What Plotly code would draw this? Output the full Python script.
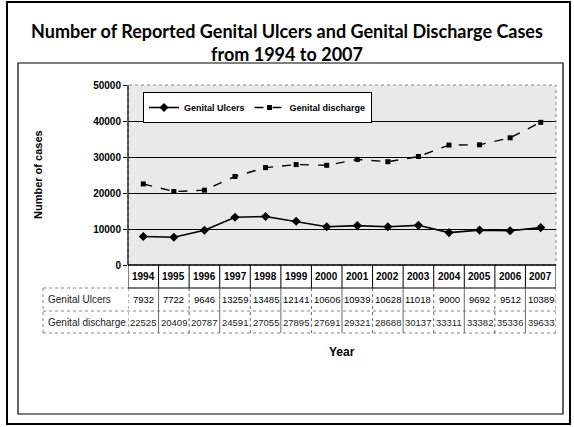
import plotly.graph_objects as go

years = ["1994", "1995", "1996", "1997", "1998", "1999", "2000",
         "2001", "2002", "2003", "2004", "2005", "2006", "2007"]
ulcers = [7932, 7722, 9646, 13259, 13485, 12141, 10606,
          10939, 10628, 11018, 9000, 9692, 9512, 10389]
discharge = [22525, 20409, 20787, 24591, 27055, 27895, 27691,
             29321, 28688, 30137, 33311, 33382, 35336, 39633]
y_ticks = [0, 10000, 20000, 30000, 40000, 50000]
series_names = ["Genital Ulcers", "Genital discharge"]

W, H = 574, 427
L, R, T, B = 128, 556, 85, 265


def px(x):
    return (x - L) / (R - L)


def py(y):
    return (B - y) / (B - T)


SANS = "Liberation Sans, Arial"

fig = go.Figure()
fig.add_trace(go.Scatter(
    x=years, y=ulcers, name=series_names[0], mode="lines+markers",
    line=dict(color="black", width=1.6),
    marker=dict(symbol="diamond", size=7, color="black"),
))
fig.add_trace(go.Scatter(
    x=years, y=discharge, name=series_names[1], mode="lines+markers",
    line=dict(color="black", width=1.4, dash="dash"),
    marker=dict(symbol="square", size=5, color="black"),
))

shapes = []
annotations = []

# outer and inner frames
shapes.append(dict(type="rect", xref="paper", yref="paper",
                   x0=px(7), x1=px(570), y0=py(424), y1=py(2),
                   line=dict(color="black", width=2)))
shapes.append(dict(type="rect", xref="paper", yref="paper",
                   x0=px(18), x1=px(563), y0=py(414), y1=py(63),
                   line=dict(color="black", width=1.2)))
# plot area border (top/right dotted grey)
shapes.append(dict(type="rect", xref="paper", yref="paper",
                   x0=0, x1=1, y0=0, y1=1,
                   line=dict(color="#888888", width=1, dash="dot")))
shapes.append(dict(type="line", xref="paper", yref="paper",
                   x0=0, x1=0, y0=0, y1=1,
                   line=dict(color="black", width=1.2)))

# table geometry
row_y = [265, 288, 311, 333]
n = len(years)
shapes.append(dict(type="line", xref="paper", yref="paper",
                   x0=0, x1=1, y0=py(row_y[0]), y1=py(row_y[0]),
                   line=dict(color="black", width=1.5)))
shapes.append(dict(type="line", xref="paper", yref="paper",
                   x0=0, x1=1, y0=py(row_y[1]), y1=py(row_y[1]),
                   line=dict(color="black", width=1)))
for i in range(n + 1):
    shapes.append(dict(type="line", xref="x", yref="paper",
                       x0=i - 0.5, x1=i - 0.5, y0=py(row_y[0]), y1=py(row_y[1]),
                       line=dict(color="black", width=1)))
    shapes.append(dict(type="line", xref="x", yref="paper",
                       x0=i - 0.5, x1=i - 0.5, y0=py(row_y[1]), y1=py(row_y[3]),
                       line=dict(color="#444444", width=0.8,
                                 dash="solid" if i % 2 else "dot")))
for yy in row_y[1:]:
    shapes.append(dict(type="line", xref="paper", yref="paper",
                       x0=px(43), x1=1, y0=py(yy), y1=py(yy),
                       line=dict(color="#666666", width=0.8, dash="dot")))
shapes.append(dict(type="line", xref="paper", yref="paper",
                   x0=px(43), x1=px(43), y0=py(row_y[1]), y1=py(row_y[3]),
                   line=dict(color="#666666", width=0.8, dash="dot")))

row_centers = [(row_y[k] + row_y[k + 1]) / 2 for k in range(3)]
for i, yr in enumerate(years):
    annotations.append(dict(x=i, xref="x", y=py(row_centers[0]), yref="paper",
                            text=yr, showarrow=False, xanchor="center", yanchor="middle",
                            font=dict(family=SANS, size=10, color="black", weight="bold")))
    annotations.append(dict(x=i, xref="x", y=py(row_centers[1]), yref="paper",
                            text=str(ulcers[i]), showarrow=False, xanchor="center", yanchor="middle",
                            font=dict(family=SANS, size=9.5, color="black")))
    annotations.append(dict(x=i, xref="x", y=py(row_centers[2]), yref="paper",
                            text=str(discharge[i]), showarrow=False, xanchor="center", yanchor="middle",
                            font=dict(family=SANS, size=9.5, color="#222222")))
for k, nm in enumerate(series_names):
    annotations.append(dict(x=px(46), xref="paper", y=py(row_centers[k + 1]), yref="paper",
                            text=nm, showarrow=False, xanchor="left", yanchor="middle",
                            font=dict(family=SANS, size=10, color="#222222")))

annotations.append(dict(x=px(38), xref="paper", y=py(175), yref="paper",
                        text="Number of cases", textangle=-90, showarrow=False,
                        xanchor="center", yanchor="middle",
                        font=dict(family=SANS, size=11, color="black", weight="bold")))
annotations.append(dict(x=0.5, xref="paper", y=py(352), yref="paper",
                        text="Year", showarrow=False, xanchor="center", yanchor="middle",
                        font=dict(family=SANS, size=12, color="black", weight="bold")))

fig.update_layout(
    width=W, height=H,
    margin=dict(l=L, r=W - R, t=T, b=H - B),
    paper_bgcolor="white",
    plot_bgcolor="#e9e9e9",
    title=dict(
        text="Number of Reported Genital Ulcers and Genital Discharge Cases<br>from 1994 to 2007",
        x=0.5, xanchor="center", xref="container",
        y=1 - 38 / H, yanchor="middle", yref="container",
        font=dict(family="Lato, Open Sans, sans-serif", size=18, color="black", weight="bold"),
    ),
    xaxis=dict(type="category", range=[-0.5, n - 0.5], showticklabels=False,
               showgrid=False, zeroline=False, ticks=""),
    yaxis=dict(range=[0, 50000], tickvals=y_ticks, ticktext=[str(v) for v in y_ticks],
               showgrid=True, gridcolor="black", gridwidth=1.3, zeroline=False,
               ticks="outside", ticklen=4, tickcolor="black",
               tickfont=dict(family=SANS, size=10, color="black", weight="bold")),
    legend=dict(orientation="h", x=px(143), y=py(92), xanchor="left", yanchor="top",
                bgcolor="white", bordercolor="black", borderwidth=1,
                font=dict(family=SANS, size=9, color="black", weight="bold"),
                itemwidth=30, tracegroupgap=0),
    shapes=shapes,
    annotations=annotations,
    showlegend=True,
)

fig.write_html("out.html", config={"displayModeBar": False},
               post_script="document.body.style.margin='0px';")
